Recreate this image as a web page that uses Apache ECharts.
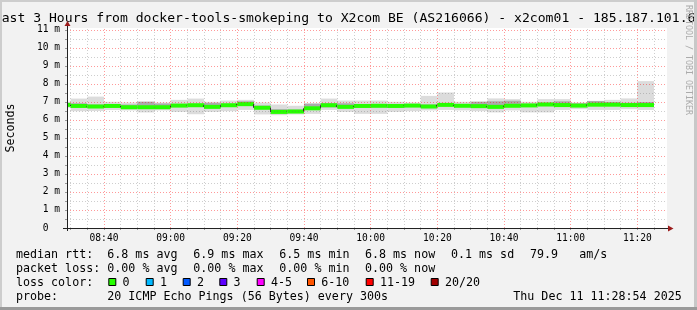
<!DOCTYPE html>
<html><head><meta charset="utf-8">
<script src="https://cdn.jsdelivr.net/npm/echarts@6/dist/echarts.min.js"></script>
<style>html,body{margin:0;padding:0;background:#f2f2f2}#c{width:697px;height:310px}</style>
</head><body><div id="c"></div>
<script>
// ---------- data ----------
const titleText = 'Last 3 Hours from docker-tools-smokeping to X2com BE (AS216066) - x2com01 - 185.187.101.6';
const xStart = '08:28:54';
const xEnd = '11:28:54';
const segEnd = ['08:30','08:35','08:40','08:45','08:50','08:55','09:00','09:05','09:10','09:15','09:20','09:25',
                '09:30','09:35','09:40','09:45','09:50','09:55','10:00','10:05','10:10','10:15','10:20','10:25',
                '10:30','10:35','10:40','10:45','10:50','10:55','11:00','11:05','11:10','11:15','11:20','11:25'];
const median  = [6.84,6.78,6.75,6.78,6.71,6.71,6.71,6.80,6.82,6.73,6.82,6.88,
                 6.68,6.45,6.47,6.65,6.82,6.73,6.78,6.79,6.78,6.80,6.75,6.84,
                 6.79,6.77,6.73,6.79,6.81,6.86,6.83,6.80,6.85,6.85,6.83,6.83];
const smokeLo = [6.68,6.49,6.50,6.55,6.53,6.42,6.53,6.45,6.32,6.45,6.49,6.56,
                 6.31,6.27,6.31,6.34,6.56,6.45,6.34,6.34,6.45,6.49,6.53,6.56,
                 6.53,6.49,6.42,6.53,6.42,6.42,6.56,6.60,6.56,6.56,6.60,6.56];
const smokeHi = [7.01,7.19,7.30,7.01,6.97,7.05,6.97,7.12,7.19,7.01,7.08,7.12,
                 6.97,6.86,6.79,6.94,7.19,7.08,7.08,7.08,7.01,6.97,7.34,7.53,
                 7.01,7.05,7.20,7.16,7.01,7.16,7.16,6.97,7.05,7.12,7.20,8.16];
const coreLo  = [6.78,6.74,6.68,6.70,6.64,6.66,6.65,6.72,6.74,6.66,6.75,6.80,
                 6.60,6.38,6.40,6.60,6.70,6.66,6.70,6.70,6.70,6.73,6.66,6.77,
                 6.72,6.72,6.66,6.72,6.74,6.78,6.76,6.72,6.78,6.78,6.76,6.76];
const coreHi  = [6.92,6.93,6.86,6.86,6.86,7.00,6.92,6.90,6.90,6.95,6.90,7.04,
                 6.80,6.60,6.58,6.90,6.94,6.93,6.86,6.88,6.86,6.87,6.86,6.92,
                 6.86,7.00,7.04,7.07,6.90,6.97,7.04,6.93,7.06,7.00,6.96,7.00];
const xTickLabels = ['08:40','09:00','09:20','09:40','10:00','10:20','10:40','11:00','11:20'];
const yTickValues = [0,1,2,3,4,5,6,7,8,9,10,11];
const yMax = 11.111;
const yAxisName = 'Seconds';
const rttLabel = 'median rtt:';
const rttStats = ['6.8 ms avg','6.9 ms max','6.5 ms min','6.8 ms now','0.1 ms sd','79.9','am/s'];
const lossLabel = 'packet loss:';
const lossStats = ['0.00 % avg','0.00 % max','0.00 % min','0.00 % now'];
const colorLabel = 'loss color:';
const lossLabels = ['0','1','2','3','4-5','6-10','11-19','20/20'];
const lossColors = ['#26ff00','#00b8ff','#0059ff','#5e00ff','#ff00ff','#ff5500','#ff0000','#a10000'];
const probeLabel = 'probe:';
const probeText = '20 ICMP Echo Pings (56 Bytes) every 300s';
const dateText = 'Thu Dec 11 11:28:54 2025';
const watermark = 'RRDTOOL / TOBI OETIKER';

// ---------- layout (positions, not data) ----------
const rttX = [107.3,193.3,279.3,365,451,530,579.3];
const lossX = [107.3,193.3,279.3,365];
const boxX = [108.3,145.7,182.7,219.3,256.7,307,365.7,430.7];
const rowY = [254.8,268.8,282.8,296.8];
const FONT = 'DejaVu Sans Mono';

function toMin(s){ const p=s.split(':').map(Number); return p[0]*60+p[1]+(p[2]||0)/60; }
function fmt(v){ const h=Math.floor(v/60), m=Math.round(v-h*60); return (h<10?'0':'')+h+':'+(m<10?'0':'')+m; }

const segEndMin = segEnd.map(toMin);
const majorX = xTickLabels.map(toMin);
const minorX = [];
for (let t = Math.ceil(toMin(xStart)/5)*5; t < toMin(xEnd); t += 5) if (majorX.indexOf(t) < 0) minorX.push(t);
const allX = [];
for (let t = Math.ceil(toMin(xStart)/5)*5; t < toMin(xEnd); t += 5) allX.push(t);
const majorY = yTickValues.filter(v => v > 0);
const minorY = yTickValues.map(v => v + 0.5).filter(v => v < yMax);
const allY = [];
yTickValues.forEach(v => { allY.push(v); if (v + 0.5 < yMax) allY.push(v + 0.5); });

const segData = segEndMin.map((t,i) => [t, median[i], smokeLo[i], smokeHi[i], coreLo[i], coreHi[i]]);

function renderSmoke(params, api){
  const t1 = api.value(0), t0 = t1 - 5;
  const a = api.coord([t0, api.value(3)]), b = api.coord([t1, api.value(2)]);
  const c = api.coord([t0, api.value(5)]), d = api.coord([t1, api.value(4)]);
  return {type:'group', children:[
    {type:'rect', shape:{x:a[0], y:a[1], width:b[0]-a[0], height:b[1]-a[1]}, style:{fill:'#dcdcdc'}},
    {type:'rect', shape:{x:c[0], y:c[1], width:d[0]-c[0], height:d[1]-c[1]}, style:{fill:'#ababab'}}
  ]};
}
function renderMedian(params, api){
  const i = params.dataIndex;
  const t1 = api.value(0), t0 = t1 - 5, m = api.value(1);
  const a = api.coord([t0, m]), b = api.coord([t1, m]);
  const ch = [
    {type:'rect', shape:{x:a[0], y:a[1]-2, width:b[0]-a[0], height:4}, style:{fill:'#26ff00'}, z2:1}
  ];
  if (i > 0) {
    const p = api.coord([t0, median[i-1]]);
    ch.push({type:'line', shape:{x1:Math.round(a[0])-0.5, y1:p[1], x2:Math.round(a[0])-0.5, y2:a[1]}, style:{stroke:'#303030', lineWidth:1}, z2:2});
  }
  return {type:'group', children:ch};
}

const majorStyle = {color:'rgba(255,0,0,0.4)', width:1, type:[1,2]};
const minorStyle = {color:'rgba(102,102,102,0.32)', width:1, type:[1,2]};

const graphics = [];
function txt(x, y, s, extra){ graphics.push(Object.assign({type:'text', x:x, y:y, silent:true, z:10,
  style:{text:s, fontFamily:FONT, fontSize:11.67, fill:'#000', align:'left', verticalAlign:'middle'}}, extra||{})); }
// title
graphics.push({type:'text', x:-6.2, y:19, z:10, style:{text:titleText, fontFamily:FONT, fontSize:13.1, fill:'#000', align:'left', verticalAlign:'middle'}});
// watermark
graphics.push({type:'text', x:688.5, y:5, rotation:-Math.PI/2, z:10, style:{text:watermark, fontFamily:FONT, fontSize:8.3, fill:'#ababab', align:'left', verticalAlign:'middle'}});
// y axis name
graphics.push({type:'text', x:11, y:128, rotation:Math.PI/2, z:10, style:{text:yAxisName, fontFamily:FONT, fontSize:11.67, fill:'#000', align:'center', verticalAlign:'middle'}});
// legend rows
txt(16, rowY[0], rttLabel);
rttStats.forEach((s,i) => txt(rttX[i], rowY[0], s));
txt(16, rowY[1], lossLabel);
lossStats.forEach((s,i) => txt(lossX[i], rowY[1], s));
txt(16, rowY[2], colorLabel);
lossLabels.forEach((s,i) => {
  graphics.push({type:'rect', z:10, shape:{x:boxX[i]+0.5, y:rowY[2]-4.3, width:7, height:7}, style:{fill:lossColors[i], stroke:'#000', lineWidth:1}});
  txt(boxX[i]+14.3, rowY[2], s);
});
txt(16, rowY[3], probeLabel);
txt(107.3, rowY[3], probeText);
txt(513.3, rowY[3], dateText);
// axis extensions and arrows
graphics.push({type:'line', z:10, shape:{x1:67.5, y1:231, x2:67.5, y2:25}, style:{stroke:'#222', lineWidth:1}});
graphics.push({type:'line', z:10, shape:{x1:63, y1:228.5, x2:668, y2:228.5}, style:{stroke:'#222', lineWidth:1}});
graphics.push({type:'polygon', z:11, shape:{points:[[64.5,26],[70.5,26],[67.5,21]]}, style:{fill:'#9b1c1c'}});
graphics.push({type:'polygon', z:11, shape:{points:[[668,225.5],[668,231.5],[673.5,228.5]]}, style:{fill:'#9b1c1c'}});
// frame
graphics.push({type:'rect', z:20, shape:{x:0,y:0,width:697,height:2}, style:{fill:'#cdcdcd'}});
graphics.push({type:'rect', z:20, shape:{x:0,y:0,width:2,height:310}, style:{fill:'#cdcdcd'}});
graphics.push({type:'rect', z:20, shape:{x:694,y:0,width:3,height:310}, style:{fill:'#c8c8c8'}});
graphics.push({type:'rect', z:21, shape:{x:0,y:307,width:697,height:3}, style:{fill:'#9a9a9a'}});

const chart = echarts.init(document.getElementById('c'), null, {renderer:'canvas'});
chart.setOption({
  animation:false,
  backgroundColor:'#f2f2f2',
  textStyle:{fontFamily:FONT},
  grid:{left:67, top:28, width:600, height:200, show:true, backgroundColor:'#ffffff', borderWidth:0},
  xAxis:{type:'value', min:toMin(xStart), max:toMin(xEnd),
    axisLine:{show:true, onZero:false, lineStyle:{color:'#222', width:1}},
    axisTick:{show:true, customValues:allX, length:2, lineStyle:{color:'#999'}},
    axisLabel:{show:true, customValues:majorX, formatter:fmt, fontFamily:FONT, fontSize:9.6, color:'#000', margin:5},
    splitLine:{show:false}},
  yAxis:{type:'value', min:0, max:yMax,
    axisLine:{show:true, onZero:false, lineStyle:{color:'#222', width:1}},
    axisTick:{show:true, customValues:allY, length:2, lineStyle:{color:'#999'}},
    axisLabel:{show:true, customValues:yTickValues, formatter:v => v === 0 ? '0  ' : v + ' m', fontFamily:FONT, fontSize:9.6, color:'#000', margin:7},
    splitLine:{show:false}},
  graphic:graphics,
  series:[
    {type:'custom', name:'smoke', z:1, clip:true, renderItem:renderSmoke, data:segData, silent:true},
    {type:'line', name:'minorGrid', z:2, data:[], silent:true,
      markLine:{silent:true, symbol:['none','none'], label:{show:false}, lineStyle:minorStyle, animation:false,
        data: minorX.map(v => ({xAxis:v})).concat(minorY.map(v => ({yAxis:v})))}},
    {type:'line', name:'majorGrid', z:3, data:[], silent:true,
      markLine:{silent:true, symbol:['none','none'], label:{show:false}, lineStyle:majorStyle, animation:false,
        data: majorX.map(v => ({xAxis:v})).concat(majorY.map(v => ({yAxis:v})))}},
    {type:'custom', name:'median', z:4, clip:true, renderItem:renderMedian, data:segData, silent:true}
  ]
});
</script></body></html>
